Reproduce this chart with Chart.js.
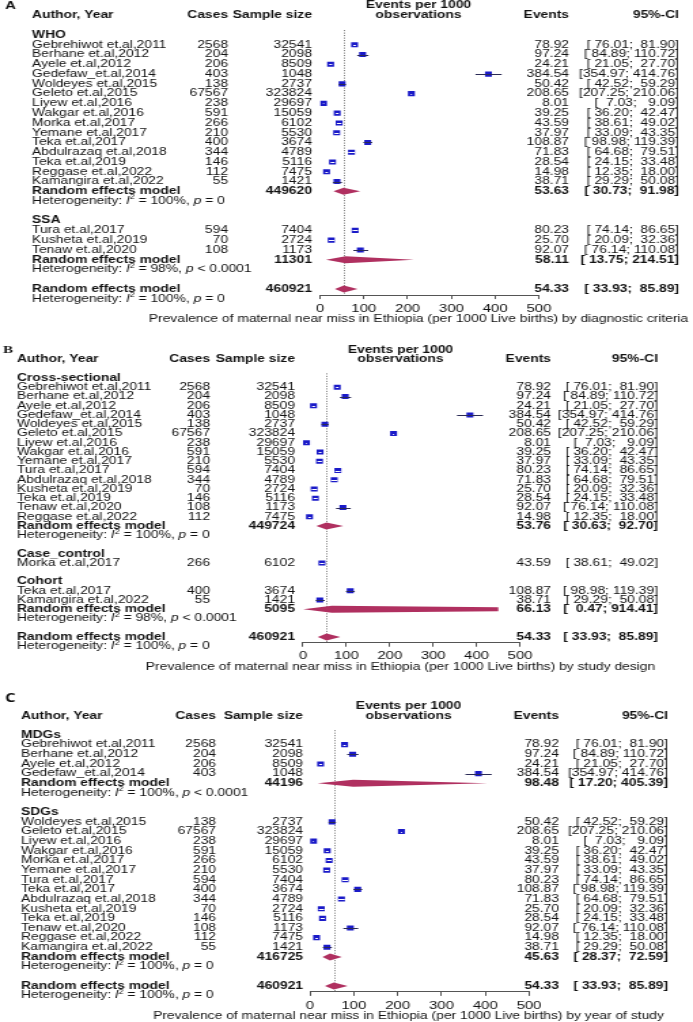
<!DOCTYPE html>
<html>
<head>
<meta charset="utf-8">
<script src="https://cdn.jsdelivr.net/npm/chart.js@4.4.1/dist/chart.umd.min.js"></script>
<style>
  body { margin: 0; background: #fff; }
  canvas { display: block; }
</style>
</head>
<body>
<!-- canvases are drawn narrow and stretched by css, like the source figure -->
<canvas id="panelA" width="510" height="330" style="width:693px;height:330px"></canvas>
<canvas id="panelB" width="510" height="345" style="width:693px;height:345px"></canvas>
<canvas id="panelC" width="510" height="347" style="width:693px;height:347px"></canvas>
<script>
// study level results (events per 1000 observations)
const studyNames = ['Gebrehiwot et.al,2011', 'Berhane et.al,2012', 'Ayele et.al,2012', 'Gedefaw_et.al,2014',
  'Woldeyes et.al,2015', 'Geleto et.al,2015', 'Liyew et.al,2016', 'Wakgar et.al,2016', 'Morka et.al,2017',
  'Yemane et.al,2017', 'Teka et.al,2017', 'Abdulrazaq et.al,2018', 'Teka et.al,2019', 'Reggase et.al,2022',
  'Kamangira et.al,2022', 'Tura et.al,2017', 'Kusheta et.al,2019', 'Tenaw et.al,2020'];
const studyCases = [2568, 204, 206, 403, 138, 67567, 238, 591, 266, 210, 400, 344, 146, 112, 55, 594, 70, 108];
const studySizes = [32541, 2098, 8509, 1048, 2737, 323824, 29697, 15059, 6102, 5530, 3674, 4789, 5116, 7475, 1421, 7404, 2724, 1173];
const studyEvents = [78.92, 97.24, 24.21, 384.54, 50.42, 208.65, 8.01, 39.25, 43.59, 37.97, 108.87, 71.83, 28.54, 14.98, 38.71, 80.23, 25.70, 92.07];
const studyLower = [76.01, 84.89, 21.05, 354.97, 42.52, 207.25, 7.03, 36.20, 38.61, 33.09, 98.98, 64.68, 24.15, 12.35, 29.29, 74.14, 20.09, 76.14];
const studyUpper = [81.90, 110.72, 27.70, 414.76, 59.29, 210.06, 9.09, 42.47, 49.02, 43.35, 119.39, 79.51, 33.48, 18.00, 50.08, 86.65, 32.36, 110.08];

const xTicks = [0, 100, 200, 300, 400, 500];

// A: by diagnostic criteria
const groupsA = ['WHO', 'SSA'];
const membersA = [
  ['Gebrehiwot et.al,2011', 'Berhane et.al,2012', 'Ayele et.al,2012', 'Gedefaw_et.al,2014', 'Woldeyes et.al,2015',
   'Geleto et.al,2015', 'Liyew et.al,2016', 'Wakgar et.al,2016', 'Morka et.al,2017', 'Yemane et.al,2017',
   'Teka et.al,2017', 'Abdulrazaq et.al,2018', 'Teka et.al,2019', 'Reggase et.al,2022', 'Kamangira et.al,2022'],
  ['Tura et.al,2017', 'Kusheta et.al,2019', 'Tenaw et.al,2020']
];
const pooledTotalA = [449620, 11301];
const pooledEventsA = [53.63, 58.11];
const pooledLowerA = [30.73, 13.75];
const pooledUpperA = [91.98, 214.51];
const hetI2A = [100, 98];
const hetPA = ['= 0', '< 0.0001'];

// B: by study design
const groupsB = ['Cross-sectional', 'Case_control', 'Cohort'];
const membersB = [
  ['Gebrehiwot et.al,2011', 'Berhane et.al,2012', 'Ayele et.al,2012', 'Gedefaw_et.al,2014', 'Woldeyes et.al,2015',
   'Geleto et.al,2015', 'Liyew et.al,2016', 'Wakgar et.al,2016', 'Yemane et.al,2017', 'Tura et.al,2017',
   'Abdulrazaq et.al,2018', 'Kusheta et.al,2019', 'Teka et.al,2019', 'Tenaw et.al,2020', 'Reggase et.al,2022'],
  ['Morka et.al,2017'],
  ['Teka et.al,2017', 'Kamangira et.al,2022']
];
const pooledTotalB = [449724, null, 5095];
const pooledEventsB = [53.76, null, 66.13];
const pooledLowerB = [30.63, null, 0.47];
const pooledUpperB = [92.70, null, 914.41];
const hetI2B = [100, null, 98];
const hetPB = ['= 0', null, '< 0.0001'];

// C: by year of study
const groupsC = ['MDGs', 'SDGs'];
const membersC = [
  ['Gebrehiwot et.al,2011', 'Berhane et.al,2012', 'Ayele et.al,2012', 'Gedefaw_et.al,2014'],
  ['Woldeyes et.al,2015', 'Geleto et.al,2015', 'Liyew et.al,2016', 'Wakgar et.al,2016', 'Morka et.al,2017',
   'Yemane et.al,2017', 'Tura et.al,2017', 'Teka et.al,2017', 'Abdulrazaq et.al,2018', 'Kusheta et.al,2019',
   'Teka et.al,2019', 'Tenaw et.al,2020', 'Reggase et.al,2022', 'Kamangira et.al,2022']
];
const pooledTotalC = [44196, 416725];
const pooledEventsC = [98.48, 45.63];
const pooledLowerC = [17.20, 28.37];
const pooledUpperC = [405.39, 72.59];
const hetI2C = [100, 100];
const hetPC = ['< 0.0001', '= 0'];

// overall random effects model (same in all panels)
const overallTotal = 460921;
const overallEvents = 54.33;
const overallLower = 33.93;
const overallUpper = 85.89;
const overallI2 = 100;
const overallP = '= 0';

const titleA = 'Prevalence of maternal near miss in Ethiopia (per 1000 Live births) by diagnostic criteria';
const titleB = 'Prevalence of maternal near miss in Ethiopia (per 1000 Live births) by study design';
const titleC = 'Prevalence of maternal near miss in Ethiopia (per 1000 Live births) by year of study';

const SX = 693 / 510;
const px = v => v / SX;
const FONT = '"Liberation Sans", Arial, sans-serif';
const FSIZE = 10.2;
const INK = '#111';
const SQUARE = '#1a1ac8';
const DIAMOND = '#b03060';
const SQ_RADIUS = 3.6;
const SQ_SIDE = 2 * Math.SQRT1_2 * SQ_RADIUS;
const DIAMOND_CLIP = 450;

function buildRows(groups, members, pTotal, pEv, pLo, pHi, i2, p) {
  const rows = [];
  let r = 0;
  groups.forEach((g, gi) => {
    rows.push({kind: 'group', r: r++, text: g});
    members[gi].forEach(n => rows.push({kind: 'study', r: r++, i: studyNames.indexOf(n)}));
    if (pTotal[gi] != null) {
      rows.push({kind: 'pooled', r: r++, total: pTotal[gi], ev: pEv[gi], lo: pLo[gi], hi: pHi[gi]});
      rows.push({kind: 'het', r: r++, i2: i2[gi], p: p[gi]});
    }
    r++;
  });
  rows.push({kind: 'pooled', r: r++, total: overallTotal, ev: overallEvents, lo: overallLower, hi: overallUpper});
  rows.push({kind: 'het', r: r++, i2: overallI2, p: overallP});
  return rows;
}

const ci = (lo, hi) => '[' + lo.toFixed(2).padStart(6) + '; ' + hi.toFixed(2).padStart(6) + ']';

function txt(ctx, s, x, y, align, style) {
  ctx.font = (style || '') + FSIZE + 'px ' + FONT;
  ctx.textAlign = align;
  ctx.fillText(s, x, y);
}

function hetText(ctx, x, y, i2, p) {
  const parts = [['Heterogeneity: ', '', FSIZE, 0], ['I', 'italic ', FSIZE, 0], ['2', '', 6.5, -3.5],
    [' = ' + i2 + '%, ', '', FSIZE, 0], ['p', 'italic ', FSIZE, 0], [' ' + p, '', FSIZE, 0]];
  ctx.textAlign = 'left';
  let cx = x;
  parts.forEach(([s, st, size, dy]) => {
    ctx.font = st + size + 'px ' + FONT;
    ctx.fillText(s, cx, y + dy);
    cx += ctx.measureText(s).width;
  });
}

function forestPlugin(rows, title, L) {
  return {
    id: 'forest',
    beforeDatasetsDraw(chart) {
      const {ctx, chartArea: a, scales: {x}} = chart;
      const xr = Math.round(x.getPixelForValue(overallEvents)) + 0.5;
      ctx.save();
      ctx.strokeStyle = '#777';
      ctx.lineWidth = 1;
      ctx.setLineDash([1, 1.5]);
      ctx.beginPath();
      ctx.moveTo(xr, a.top);
      ctx.lineTo(xr, a.bottom);
      ctx.stroke();
      ctx.restore();
    },
    afterDatasetsDraw(chart) {
      const {ctx, chartArea: a, scales: {x, y}} = chart;
      ctx.save();
      ctx.beginPath();
      ctx.rect(a.left - 1, a.top, x.getPixelForValue(DIAMOND_CLIP) - a.left + 1, a.bottom - a.top);
      ctx.clip();
      // confidence lines, white when they fit inside the square
      ctx.lineWidth = 1;
      rows.filter(d => d.kind === 'study').forEach(d => {
        const x0 = x.getPixelForValue(studyLower[d.i]);
        const x1 = x.getPixelForValue(studyUpper[d.i]);
        const yy = Math.round(y.getPixelForValue(d.r)) + 0.5;
        ctx.strokeStyle = (x1 - x0) < SQ_SIDE ? '#fff' : '#2a2a55';
        ctx.beginPath();
        ctx.moveTo(x0, yy);
        ctx.lineTo(x1, yy);
        ctx.stroke();
      });
      // pooled diamonds
      ctx.fillStyle = DIAMOND;
      rows.filter(d => d.kind === 'pooled').forEach(d => {
        const yy = y.getPixelForValue(d.r);
        ctx.beginPath();
        ctx.moveTo(x.getPixelForValue(d.lo), yy);
        ctx.lineTo(x.getPixelForValue(d.ev), yy - 3.5);
        ctx.lineTo(x.getPixelForValue(d.hi), yy);
        ctx.lineTo(x.getPixelForValue(d.ev), yy + 3.5);
        ctx.closePath();
        ctx.fill();
      });
      ctx.restore();
    },
    afterDraw(chart) {
      const {ctx, chartArea: a, scales: {y}} = chart;
      const mid = (a.left + a.right) / 2 - px(11);
      const X = L.xs.map(px);
      const [labelX, casesX, sizeX, eventsX, ciX] = X;
      ctx.save();
      ctx.fillStyle = INK;
      ctx.textBaseline = 'middle';
      ctx.font = L.letterFont;
      ctx.textAlign = 'left';
      ctx.fillText(L.letter, px(L.letterX), L.letterY);

      const h1 = y.getPixelForValue(-3), h2 = y.getPixelForValue(-2);
      txt(ctx, 'Author, Year', labelX, h2, 'left', 'bold ');
      txt(ctx, 'Cases', casesX, h2, 'right', 'bold ');
      txt(ctx, 'Sample size', sizeX, h2, 'right', 'bold ');
      txt(ctx, 'Events per 1000', mid, h1, 'center', 'bold ');
      txt(ctx, 'observations', mid, h2, 'center', 'bold ');
      txt(ctx, 'Events', eventsX, h2, 'right', 'bold ');
      txt(ctx, '95%-CI', ciX, h2, 'right', 'bold ');

      rows.forEach(d => {
        const yy = y.getPixelForValue(d.r);
        if (d.kind === 'group') {
          txt(ctx, d.text, labelX, yy, 'left', 'bold ');
        } else if (d.kind === 'study') {
          txt(ctx, studyNames[d.i], labelX, yy, 'left');
          txt(ctx, String(studyCases[d.i]), casesX, yy, 'right');
          txt(ctx, String(studySizes[d.i]), sizeX, yy, 'right');
          txt(ctx, studyEvents[d.i].toFixed(2), eventsX, yy, 'right');
          txt(ctx, ci(studyLower[d.i], studyUpper[d.i]), ciX, yy, 'right');
        } else if (d.kind === 'pooled') {
          txt(ctx, 'Random effects model', labelX, yy, 'left', 'bold ');
          txt(ctx, String(d.total), sizeX, yy, 'right', 'bold ');
          txt(ctx, d.ev.toFixed(2), eventsX, yy, 'right', 'bold ');
          txt(ctx, ci(d.lo, d.hi), ciX, yy, 'right', 'bold ');
        } else {
          hetText(ctx, labelX, yy, d.i2, d.p);
        }
      });
      txt(ctx, title, mid, a.bottom + 24, 'center');
      ctx.restore();
    }
  };
}

function makePanel(id, rows, title, L) {
  const canvas = document.getElementById(id);
  const H = canvas.height;
  const axisH = 28;
  const yMax = rows[rows.length - 2].r + 0.62;
  const top = L.row0 - 0.5 * L.pitch;
  const bottom = L.row0 + yMax * L.pitch;
  const studies = rows.filter(d => d.kind === 'study');
  new Chart(canvas, {
    type: 'scatter',
    data: {
      datasets: [{
        data: studies.map(d => ({x: studyEvents[d.i], y: d.r})),
        pointStyle: 'rect',
        pointRadius: SQ_RADIUS,
        pointBackgroundColor: SQUARE,
        pointBorderWidth: 0,
        backgroundColor: SQUARE,
        borderWidth: 0
      }]
    },
    options: {
      responsive: false,
      animation: false,
      devicePixelRatio: 1,
      events: [],
      layout: {padding: {left: px(L.plotL), right: 510 - px(L.plotR), top: top, bottom: H - bottom - axisH}},
      plugins: {legend: {display: false}, tooltip: {enabled: false}},
      scales: {
        x: {
          type: 'linear', min: 0, max: 500,
          afterBuildTicks: s => { s.ticks = xTicks.map(v => ({value: v})); },
          afterFit: s => { s.height = axisH; },
          grid: {drawOnChartArea: false, tickLength: 4, color: '#555'},
          border: {color: '#555'},
          ticks: {font: {family: FONT, size: 11}, color: INK, padding: 3, maxRotation: 0, autoSkip: false}
        },
        y: {type: 'linear', reverse: true, min: -0.5, max: yMax, display: false}
      }
    },
    plugins: [forestPlugin(rows, title, L)]
  });
}

const rowsA = buildRows(groupsA, membersA, pooledTotalA, pooledEventsA, pooledLowerA, pooledUpperA, hetI2A, hetPA);
const rowsB = buildRows(groupsB, membersB, pooledTotalB, pooledEventsB, pooledLowerB, pooledUpperB, hetI2B, hetPB);
const rowsC = buildRows(groupsC, membersC, pooledTotalC, pooledEventsC, pooledLowerC, pooledUpperC, hetI2C, hetPC);

makePanel('panelA', rowsA, titleA, {letter: 'A', letterFont: 'bold 11px ' + FONT, letterX: 5, letterY: 6,
  row0: 35, pitch: 9.77, plotL: 320, plotR: 539, xs: [32, 228, 312, 569, 679]});
makePanel('panelB', rowsB, titleB, {letter: 'B', letterFont: 'bold 11px "Liberation Serif", serif', letterX: 3, letterY: 20,
  row0: 48, pitch: 9.25, plotL: 303, plotR: 520, xs: [17, 210, 295, 551, 658]});
makePanel('panelC', rowsC, titleC, {letter: 'C', letterFont: 'bold 12px "Open Sans", sans-serif', letterX: 5, letterY: 24,
  row0: 60, pitch: 9.65, plotL: 310, plotR: 529, xs: [21, 216, 303, 559, 668]});
</script>
</body>
</html>
